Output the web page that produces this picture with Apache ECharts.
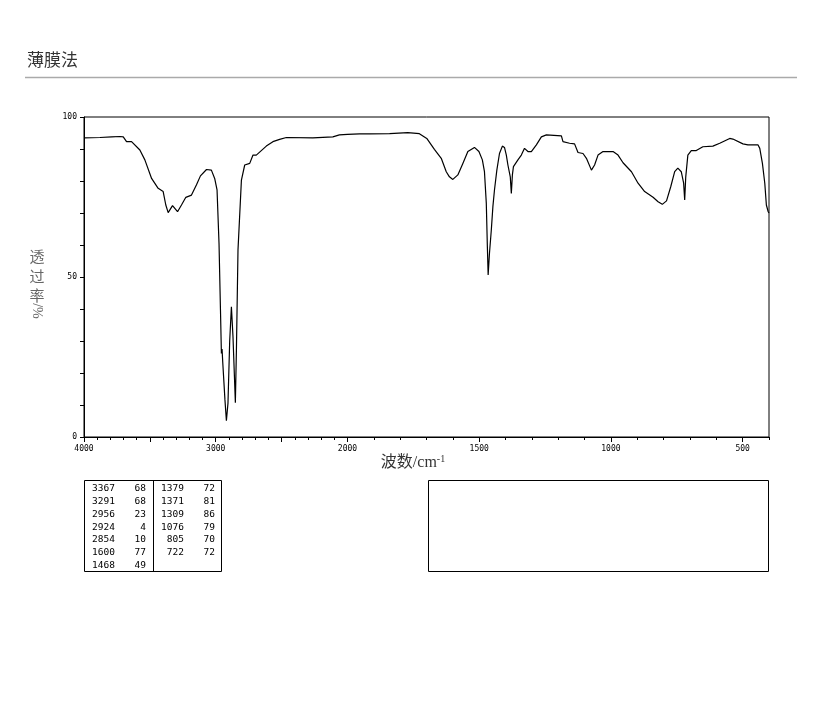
<!DOCTYPE html>
<html>
<head>
<meta charset="utf-8">
<script src="https://cdn.jsdelivr.net/npm/echarts@6/dist/echarts.min.js"></script>
<style>
html,body{margin:0;padding:0;background:#fff;}
#chart{width:822px;height:709px;}
</style>
</head>
<body>
<div id="chart"></div>
<script>
// ---- data ----
const wavenumbers = [4000,3879,3790,3778,3727,3702,3677,3639,3576,3538,3487,3437,3399,3379,3361,3328,3290,3260,3227,3184,3146,3116,3070,3033,3008,2990,2975,2964,2957,2952,2947,2939,2930,2919,2907,2894,2881,2873,2869,2858,2851,2843,2831,2805,2780,2742,2717,2692,2654,2616,2566,2515,2464,2263,2111,2061,2000,1954,1916,1840,1771,1727,1699,1670,1644,1625,1613,1600,1581,1562,1543,1518,1501,1488,1480,1473,1469,1466,1461,1454,1448,1442,1433,1423,1412,1404,1397,1391,1382,1378,1374,1370,1353,1340,1328,1315,1302,1283,1264,1245,1188,1182,1176,1157,1138,1125,1106,1093,1074,1062,1049,1030,992,973,954,922,897,872,840,821,805,789,773,758,746,733,724,720,716,708,695,676,651,613,587,549,537,499,480,442,435,425,416,410,403,400];
const transmittance = [93.5,93.6,93.8,94.4,93.9,93.8,92.3,92.3,89.7,86.6,80.8,77.7,76.7,72.5,70.1,72.3,70.4,72.5,74.9,75.6,78.8,81.6,83.6,83.4,80.8,77.2,60.5,39.7,26.1,27.5,23.5,23,11.6,5.1,10.6,30,40.7,41.2,31.3,18.8,10.7,27.2,58.4,80.3,85,85.5,88.1,88.1,89.5,90.9,92.3,93,93.6,93.5,93.8,94.4,94.6,94.7,94.7,94.8,95.1,94.8,93.3,89.9,87.1,82.9,81.3,80.5,81.9,85.5,89.2,90.5,89.2,86.6,82.9,73,59.5,50.6,57.4,64.7,72,77.2,83.4,88.6,90.9,90.5,88.1,85,81.3,76.1,81.9,84.5,86.6,88.1,90.2,89.2,89.2,91.3,93.8,94.4,94.1,92.3,92.8,91.8,91.6,88.9,88.6,87.1,83.4,85,88.1,89.2,89.2,88.1,85.7,82.9,79.3,76.7,74.9,73.5,72.7,73.8,78.2,82.9,84,82.9,79.3,74.1,81.3,88.1,89.5,89.5,90.7,90.9,91.8,93.3,93.1,91.6,91.3,91.3,90.2,85.5,79.3,72.5,70.4,70];
const xTickLabels = ['4000','3000','2000','1500','1000','500'];
const yTickLabels = ['0','50','100'];
const peakWavenumbers = ['3367','3291','2956','2924','2854','1600','1468','1379','1371','1309','1076','805','722'];
const peakValues = ['68','68','23','4','10','77','49','72','81','86','79','70','72'];
const titleText = '薄膜法';
const xName = '波数/cm';
const xNameSup = '-1';
const yNameCJK = ['透','过','率'];
const yNameLatin = '/%';

// ---- piecewise wavenumber scale (4000-2000 compressed x2) ----
function pos(w){ return w >= 2000 ? (4000 - w) / 2 : 1000 + (2000 - w); }
function unpos(p){ return p <= 1000 ? 4000 - 2 * p : 2000 - (p - 1000); }

const seriesData = wavenumbers.map((w, i) => [pos(w), transmittance[i]]);
const labelPositions = xTickLabels.map(s => pos(Number(s)));
const shortTicks = [];
for (let w = 3900; w >= 400; w -= 100) shortTicks.push(pos(w));
const longTicks = [];
for (let w = 4000; w >= 500; w -= 500) longTicks.push(pos(w));

const chart = echarts.init(document.getElementById('chart'), null, {renderer: 'canvas'});

const gridL = 84, gridT = 117, gridR = 822 - 769, gridB = 709 - 437;
const tickFont = {fontFamily: 'DejaVu Sans Mono', fontSize: 8, color: '#000'};

// table graphics
const graphics = [];
graphics.push({type: 'text', left: 27, top: 51, style: {text: titleText, font: '17px "Noto Sans CJK SC"', fill: '#333'}});
graphics.push({type: 'line', shape: {x1: 25, y1: 77.5, x2: 797, y2: 77.5}, style: {stroke: '#aaaaaa', lineWidth: 1.5}});
graphics.push({type: 'text', x: 37, y: 247, style: {text: yNameCJK.join('\n'), font: '15px "Noto Sans CJK SC"', fill: '#666', align: 'center', verticalAlign: 'top', lineHeight: 19.5}});
graphics.push({type: 'text', x: 37, y: 311, rotation: -Math.PI / 2, style: {text: yNameLatin, font: '14px "Liberation Serif"', fill: '#666', align: 'center', verticalAlign: 'middle'}});
graphics.push({type: 'text', x: 413, y: 463, style: {
  text: '{a|' + xName + '}{s|' + xNameSup + '}', align: 'center', verticalAlign: 'middle',
  rich: {a: {font: '16px "Liberation Serif", "Noto Sans CJK SC"', fill: '#333'},
         s: {font: '10px "Liberation Serif"', fill: '#333', verticalAlign: 'top', padding: [0,0,8,0]}}
}});
// peak table
const tX = 84.5, tY = 480.5, tW = 137, tH = 91;
graphics.push({type: 'rect', shape: {x: tX, y: tY, width: tW, height: tH}, style: {fill: 'none', stroke: '#000', lineWidth: 1}});
graphics.push({type: 'line', shape: {x1: 153.5, y1: tY, x2: 153.5, y2: tY + tH}, style: {stroke: '#000', lineWidth: 1}});
graphics.push({type: 'rect', shape: {x: 428.5, y: 480.5, width: 340, height: 91}, style: {fill: 'none', stroke: '#000', lineWidth: 1}});
const rowsPerCol = 7;
peakWavenumbers.forEach((w, i) => {
  const col = Math.floor(i / rowsPerCol), row = i % rowsPerCol;
  const y = 489 + row * 12.7;
  const xw = col === 0 ? 115 : 184;
  const xv = col === 0 ? 146 : 215;
  graphics.push({type: 'text', x: xw, y: y, style: {text: w, font: '9.5px "DejaVu Sans Mono"', fill: '#000', align: 'right', verticalAlign: 'middle'}});
  graphics.push({type: 'text', x: xv, y: y, style: {text: peakValues[i], font: '9.5px "DejaVu Sans Mono"', fill: '#000', align: 'right', verticalAlign: 'middle'}});
});

chart.setOption({
  animation: false,
  backgroundColor: '#fff',
  grid: {left: gridL, top: gridT, right: gridR, bottom: gridB, show: true, borderColor: '#000', borderWidth: 1, backgroundColor: 'transparent'},
  xAxis: [{
    type: 'value', min: 0, max: 2600, position: 'bottom',
    axisLine: {show: true, onZero: false, lineStyle: {color: '#000', width: 1}},
    axisTick: {show: true, inside: false, length: 3, customValues: shortTicks, lineStyle: {color: '#000'}},
    axisLabel: {show: true, customValues: labelPositions, margin: 8, ...tickFont,
      formatter: v => { const i = labelPositions.indexOf(v); return i >= 0 ? xTickLabels[i] : String(unpos(v)); }},
    splitLine: {show: false}
  }, {
    type: 'value', min: 0, max: 2600, position: 'bottom', gridIndex: 0,
    axisLine: {show: false, onZero: false},
    axisTick: {show: true, inside: false, length: 5, customValues: longTicks, lineStyle: {color: '#000'}},
    axisLabel: {show: false},
    splitLine: {show: false}
  }],
  yAxis: {
    type: 'value', min: 0, max: 100, interval: 10,
    axisLine: {show: true, onZero: false, lineStyle: {color: '#000', width: 1}},
    axisTick: {show: true, inside: false, length: 4, lineStyle: {color: '#000'}},
    axisLabel: {show: true, customValues: yTickLabels.map(Number), margin: 7, ...tickFont},
    splitLine: {show: false}
  },
  series: [{
    type: 'line', xAxisIndex: 0, data: seriesData, showSymbol: false, symbol: 'none',
    lineStyle: {color: '#000', width: 1.2}, silent: true, clip: true
  }],
  graphic: graphics
});
</script>
</body>
</html>
